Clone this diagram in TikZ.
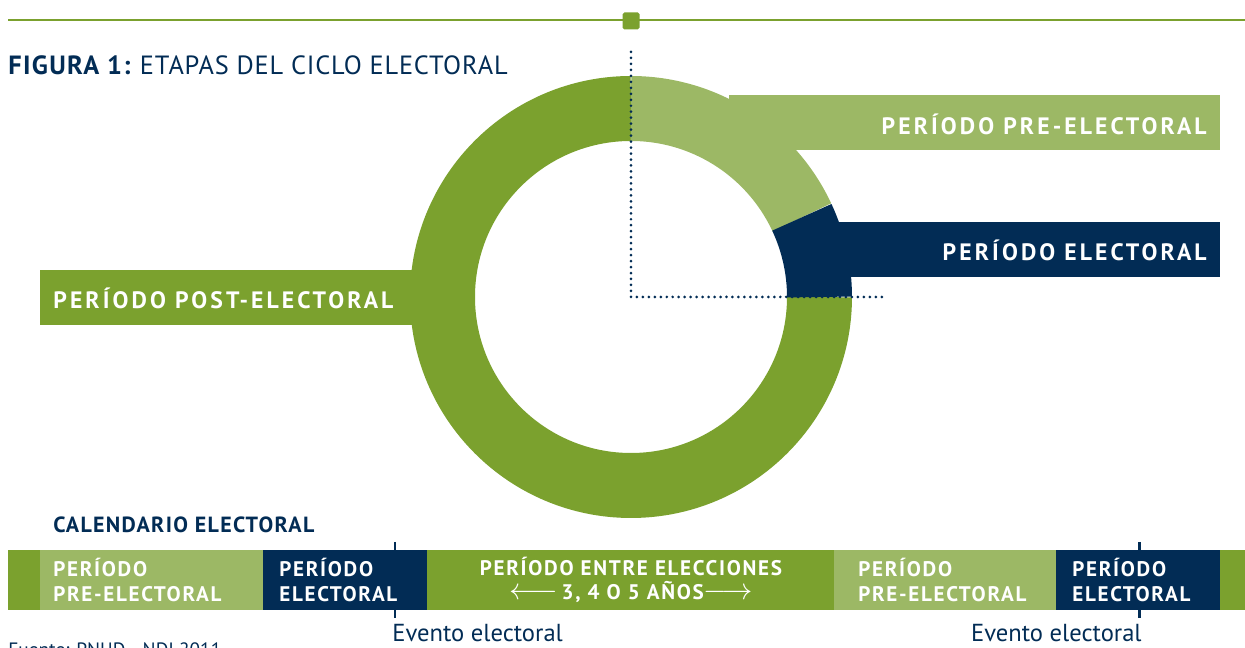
\documentclass[tikz,border=0pt]{standalone}
\usepackage{fontspec}
\setmainfont{PT Sans}
\newfontfamily\espaciada[LetterSpace=13]{PT Sans}
\newfontfamily\medioespaciada[LetterSpace=8]{PT Sans}
\newfontfamily\pocoespaciada[LetterSpace=5]{PT Sans}
\newfontfamily\casiespaciada[LetterSpace=3]{PT Sans}
\usepackage{tikz}
\definecolor{verde}{HTML}{7BA12E}
\definecolor{verdeclaro}{HTML}{9CB865}
\definecolor{azul}{HTML}{022C55}
\newcommand{\flecha}[1]{{\fontsize{17}{14}\selectfont$#1$}}

\begin{document}
\begin{tikzpicture}[x=0.02cm,y=0.02cm,
	etiqueta/.style={text=white,font=\espaciada\bfseries\fontsize{13.5}{16}\selectfont,inner sep=0pt},
	casilla/.style={text=white,font=\medioespaciada\bfseries\fontsize{12}{14}\selectfont,align=left,inner sep=0pt,anchor=west},
	evento/.style={text=azul,font=\fontsize{14}{16}\selectfont,inner sep=0pt}]
	\useasboundingbox (0,0) rectangle (1245,648);
	
	%top rule with the little square
	\draw[verde,line width=0.85pt] (8,628) -- (1245,628);
	\node[fill=verde,minimum size=0.34cm,inner sep=0pt,rounded corners=1pt] (marca) at (631,627) {};
	
	%the title
	\node[anchor=base west,inner sep=0pt,text=azul,font=\fontsize{15}{18}\selectfont] (titulo) at (8,573)
		{{\pocoespaciada\bfseries FIGURA 1:} {\casiespaciada ETAPAS DEL CICLO ELECTORAL}};
	
	%the ring, three arcs
	\coordinate (ring) at (631,351);
	\draw[verde,line width=1.3cm] (ring) ++(90:188.5) arc[start angle=90,end angle=360,radius=188.5];
	\draw[verdeclaro,line width=1.3cm] (ring) ++(25:188.5) arc[start angle=25,end angle=90,radius=188.5];
	\draw[azul,line width=1.3cm] (ring) ++(0:188.5) arc[start angle=0,end angle=25,radius=188.5];
	
	%bars going out of the ring
	\fill[verdeclaro] (729,498) rectangle (1220,553);
	\fill[azul] (800,371) rectangle (1220,426);
	\fill[verde] (40,323) rectangle (440,378);
	\node[etiqueta,anchor=east] (pre) at (1207,524) {PERÍODO PRE-ELECTORAL};
	\node[etiqueta,anchor=east] (elec) at (1207,398) {PERÍODO ELECTORAL};
	\node[etiqueta,anchor=west] (post) at (53,350) {PERÍODO POST-ELECTORAL};
	
	%dotted axes
	\coordinate (arriba) at (631,596);
	\coordinate (derecha) at (883,351);
	\draw[azul,line width=1.7pt,dash pattern=on 0pt off 3.4pt,line cap=round] (arriba) -- (ring) -- (derecha);
	
	%calendar
	\node[anchor=base west,inner sep=0pt,text=azul,font=\fontsize{12.5}{15}\selectfont] (calendario) at (53,115) {{\addfontfeature{LetterSpace=6}\bfseries CALENDARIO ELECTORAL}};
	\fill[verde] (8,38) rectangle (40,98);
	\fill[verdeclaro] (40,38) rectangle (263,98);
	\fill[azul] (263,38) rectangle (427,98);
	\fill[verde] (427,38) rectangle (834,98);
	\fill[verdeclaro] (834,38) rectangle (1056,98);
	\fill[azul] (1056,38) rectangle (1220,98);
	\fill[verde] (1220,38) rectangle (1245,98);
	
	%election events
	\coordinate (e1a) at (395,106);
	\coordinate (e1b) at (395,30);
	\coordinate (e2a) at (1139,106);
	\coordinate (e2b) at (1139,30);
	\draw[azul,line width=1.7pt] (e1a) -- (e1b);
	\draw[azul,line width=1.7pt] (e2a) -- (e2b);
	\node[evento,anchor=base west] (ev1) at (392,6) {Evento electoral};
	\node[evento,anchor=base east] (ev2) at (1142,6) {Evento electoral};
	
	\node[casilla] (pre1) at (53,68) {PERÍODO\\PRE-ELECTORAL};
	\node[casilla] (elec1) at (279,68) {PERÍODO\\ELECTORAL};
	\node[casilla,anchor=center,align=center] (entre) at (631,68)
		{PERÍODO ENTRE ELECCIONES\\\flecha{\longleftarrow}\,3, 4 O 5 AÑOS\flecha{\longrightarrow}};
	\node[casilla] (pre2) at (858,68) {PERÍODO\\PRE-ELECTORAL};
	\node[casilla] (elec2) at (1072,68) {PERÍODO\\ELECTORAL};
	
	%source, cut by the edge
	\node[anchor=base west,inner sep=0pt,text=azul,font=\fontsize{11}{13}\selectfont] (fuente) at (8,-9) {Fuente: PNUD - NDI 2011};
\end{tikzpicture}
\end{document}
